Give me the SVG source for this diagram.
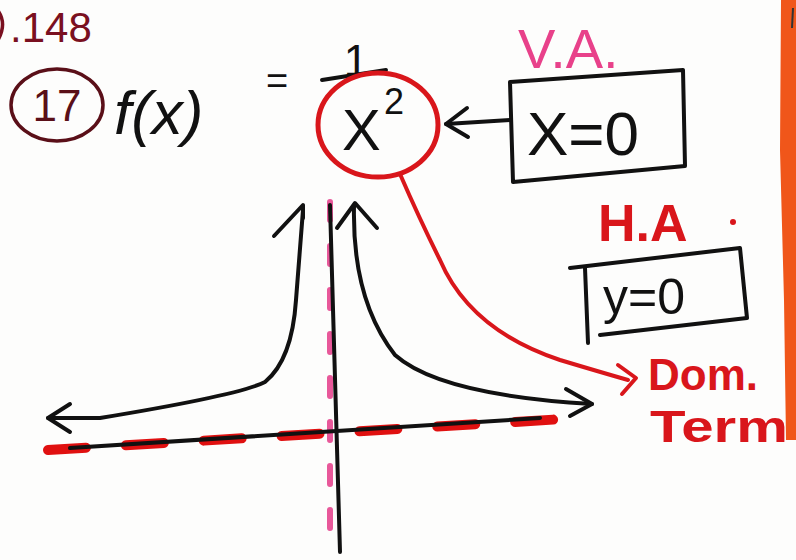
<svg xmlns="http://www.w3.org/2000/svg" width="796" height="560" viewBox="0 0 796 560">
<defs>
<style>
.ink{fill:none;stroke:#111;stroke-width:4;stroke-linecap:round;stroke-linejoin:round}
.red{fill:none;stroke:#d9161b;stroke-width:4;stroke-linecap:round;stroke-linejoin:round}
.txt{font-family:"Liberation Sans",Arial,sans-serif}
</style>
</defs>
<rect width="796" height="560" fill="#fdfdfc"/>
<path d="M781 0 L796 0 L796 440 L786 440 L784 300 L780 150 Z" fill="#f0561a"/>
<path d="M793 8 L792 28" stroke="#333" stroke-width="2"/>

<g id="page-ref">
<path d="M-4 8 Q8 22 -2 40" fill="none" stroke="#7a1020" stroke-width="3.5"/>
<text class="txt" x="10" y="42" font-size="42" fill="#7a1020">.148</text>
</g>

<g id="problem-number">
<ellipse cx="57" cy="105" rx="46" ry="36" fill="none" stroke="#5a0f18" stroke-width="3.5"/>
<text class="txt" x="57" y="121" font-size="44" fill="#5a0f18" text-anchor="middle">17</text>
</g>

<g id="function">
<text class="txt" x="114" y="134" font-size="62" font-style="italic" fill="#111">f(x)</text>
<text class="txt" x="266" y="94" font-size="38" fill="#111">=</text>
<text class="txt" x="356" y="76" font-size="44" fill="#111" text-anchor="middle">1</text>
<path class="ink" d="M322 80 L386 70"/>
<text class="txt" x="342" y="150" font-size="58" fill="#111">X</text>
<text class="txt" x="384" y="114" font-size="36" fill="#111">2</text>
</g>

<g id="denominator-circle">
<ellipse cx="378" cy="125" rx="60" ry="52" fill="none" stroke="#d9161b" stroke-width="5"/>
</g>

<g id="va-label">
<text class="txt" x="518" y="68" font-size="56" fill="#e8418a">V.A.</text>
</g>

<g id="va-box">
<path class="ink" d="M510 82 L683 70 L685 166 L513 182 Z" stroke-width="3.5"/>
<text class="txt" x="527" y="155" font-size="62" fill="#111">X=0</text>
</g>

<g id="ha-label">
<text class="txt" x="598" y="241" font-size="52" font-weight="bold" fill="#d9161b">H.A</text>
<circle cx="733" cy="222" r="3" fill="#d9161b"/>
</g>

<g id="ha-box">
<path class="ink" d="M570 268 L740 248 L747 318 L600 335" stroke-width="3.5"/>
<path class="ink" d="M585 268 L588 343" stroke-width="3.5"/>
<text class="txt" x="603" y="314" font-size="50" fill="#111">y=0</text>
</g>

<g id="dom-term">
<text class="txt" x="648" y="390" font-size="44" font-weight="bold" fill="#d9161b">Dom.</text>
<text class="txt" x="650" y="442" font-size="44" font-weight="bold" fill="#d9161b" textLength="138" lengthAdjust="spacingAndGlyphs">Term</text>
</g>

<g id="graph">
<path d="M330 202 L330 550" stroke="#e8589a" stroke-width="6" stroke-dasharray="18 26" stroke-linecap="round"/>
<path d="M48 450 L580 418" stroke="#e01010" stroke-width="10" stroke-dasharray="38 40" stroke-linecap="round"/>
<path class="ink" d="M330 205 L340 552"/>
<path class="ink" d="M70 448 L540 418"/>
<path class="ink" d="M48 418 L100 418 Q240 395 265 382 Q292 360 296 300 L303 210"/>
<path class="ink" d="M70 404 L48 418 L70 432"/>
<path class="ink" d="M274 236 L303 205 L303 218"/>
<path class="ink" d="M354 206 Q352 300 395 355 Q440 395 592 404"/>
<path class="ink" d="M337 228 L355 203 L377 228"/>
<path class="ink" d="M566 389 L592 404 L570 416"/>
</g>

<g id="connectors">
<path class="ink" d="M510 120 L446 124" stroke-width="3"/>
<path class="ink" d="M467 108 L446 124 L468 137" stroke-width="3"/>
<path class="red" d="M400 174 Q420 220 440 260 Q470 330 560 360 Q600 372 628 380"/>
<path class="red" d="M618 365 L636 378 L622 394"/>
</g>
</svg>
